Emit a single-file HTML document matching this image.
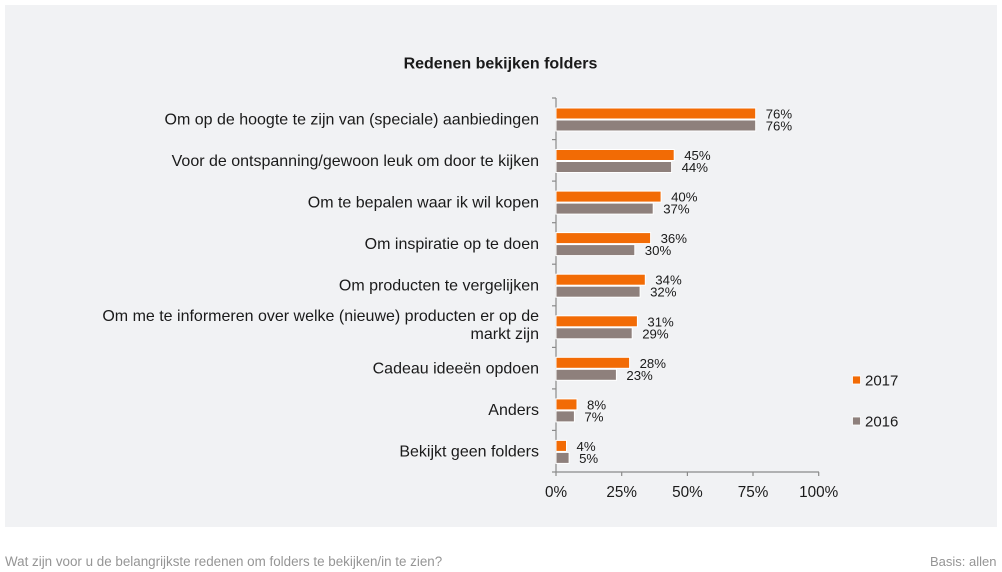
<!DOCTYPE html>
<html>
<head>
<meta charset="utf-8">
<style>
html,body{margin:0;padding:0;background:#ffffff;}
svg{display:block;}
text{font-family:"Liberation Sans",Arial,sans-serif;}
</style>
</head>
<body>
<svg width="1002" height="572" viewBox="0 0 1002 572" xmlns="http://www.w3.org/2000/svg">
  <rect x="0" y="0" width="1002" height="572" fill="#ffffff"/>
  <rect x="5" y="5" width="992" height="522" fill="#f1f2f4"/>

  <text x="500.5" y="68.5" font-size="16" font-weight="bold" fill="#1a1a1a" text-anchor="middle">Redenen bekijken folders</text>

  <!-- axes -->
  <g stroke="#8a8a8a" stroke-width="1.2" fill="none">
    <line x1="556" y1="98" x2="556" y2="472"/>
    <line x1="556" y1="472" x2="819" y2="472"/>
    <line x1="552" y1="98" x2="556" y2="98"/>
    <line x1="552" y1="139.6" x2="556" y2="139.6"/>
    <line x1="552" y1="181.1" x2="556" y2="181.1"/>
    <line x1="552" y1="222.7" x2="556" y2="222.7"/>
    <line x1="552" y1="264.2" x2="556" y2="264.2"/>
    <line x1="552" y1="305.8" x2="556" y2="305.8"/>
    <line x1="552" y1="347.4" x2="556" y2="347.4"/>
    <line x1="552" y1="388.9" x2="556" y2="388.9"/>
    <line x1="552" y1="430.4" x2="556" y2="430.4"/>
    <line x1="552" y1="472" x2="556" y2="472"/>
    <line x1="556" y1="472" x2="556" y2="476"/>
    <line x1="621.7" y1="472" x2="621.7" y2="476"/>
    <line x1="687.4" y1="472" x2="687.4" y2="476"/>
    <line x1="753" y1="472" x2="753" y2="476"/>
    <line x1="818.7" y1="472" x2="818.7" y2="476"/>
  </g>

  <!-- x tick labels -->
  <g font-size="15.3" fill="#1a1a1a" text-anchor="middle">
    <text x="556" y="497">0%</text>
    <text x="621.7" y="497">25%</text>
    <text x="687.4" y="497">50%</text>
    <text x="753" y="497">75%</text>
    <text x="818.7" y="497">100%</text>
  </g>

  <!-- category labels -->
  <g font-size="16" fill="#1a1a1a" text-anchor="end">
    <text x="539" y="124.3">Om op de hoogte te zijn van (speciale) aanbiedingen</text>
    <text x="539" y="165.8">Voor de ontspanning/gewoon leuk om door te kijken</text>
    <text x="539" y="207.4">Om te bepalen waar ik wil kopen</text>
    <text x="539" y="248.9">Om inspiratie op te doen</text>
    <text x="539" y="290.5">Om producten te vergelijken</text>
    <text x="539" y="320.8">Om me te informeren over welke (nieuwe) producten er op de</text>
    <text x="539" y="338.8">markt zijn</text>
    <text x="539" y="373.6">Cadeau ideeën opdoen</text>
    <text x="539" y="415.2">Anders</text>
    <text x="539" y="456.7">Bekijkt geen folders</text>
  </g>

  <!-- bars -->
  <g stroke="#ffffff" stroke-width="1">
    <!-- 2017 orange -->
    <rect x="556" y="108" width="199.7" height="11" fill="#f26b05"/>
    <rect x="556" y="149.5" width="118.2" height="11" fill="#f26b05"/>
    <rect x="556" y="191.1" width="105.1" height="11" fill="#f26b05"/>
    <rect x="556" y="232.6" width="94.6" height="11" fill="#f26b05"/>
    <rect x="556" y="274.2" width="89.3" height="11" fill="#f26b05"/>
    <rect x="556" y="315.8" width="81.4" height="11" fill="#f26b05"/>
    <rect x="556" y="357.3" width="73.6" height="11" fill="#f26b05"/>
    <rect x="556" y="398.9" width="21" height="11" fill="#f26b05"/>
    <rect x="556" y="440.4" width="10.5" height="11" fill="#f26b05"/>
    <!-- 2016 gray -->
    <rect x="556" y="120" width="199.7" height="11" fill="#8e807c"/>
    <rect x="556" y="161.5" width="115.6" height="11" fill="#8e807c"/>
    <rect x="556" y="203.1" width="97.2" height="11" fill="#8e807c"/>
    <rect x="556" y="244.6" width="78.8" height="11" fill="#8e807c"/>
    <rect x="556" y="286.2" width="84.1" height="11" fill="#8e807c"/>
    <rect x="556" y="327.8" width="76.2" height="11" fill="#8e807c"/>
    <rect x="556" y="369.3" width="60.4" height="11" fill="#8e807c"/>
    <rect x="556" y="410.9" width="18.4" height="11" fill="#8e807c"/>
    <rect x="556" y="452.4" width="13.1" height="11" fill="#8e807c"/>
  </g>

  <!-- value labels -->
  <g font-size="13.2" fill="#1a1a1a">
    <text x="765.7" y="118.5">76%</text>
    <text x="765.7" y="130.5">76%</text>
    <text x="684.2" y="160">45%</text>
    <text x="681.6" y="172">44%</text>
    <text x="671.1" y="201.6">40%</text>
    <text x="663.2" y="213.6">37%</text>
    <text x="660.6" y="243.1">36%</text>
    <text x="644.8" y="255.1">30%</text>
    <text x="655.3" y="284.7">34%</text>
    <text x="650.1" y="296.7">32%</text>
    <text x="647.4" y="326.3">31%</text>
    <text x="642.2" y="338.3">29%</text>
    <text x="639.6" y="367.8">28%</text>
    <text x="626.4" y="379.8">23%</text>
    <text x="587" y="409.4">8%</text>
    <text x="584.4" y="421.4">7%</text>
    <text x="576.5" y="450.9">4%</text>
    <text x="579.1" y="462.9">5%</text>
  </g>

  <!-- legend -->
  <rect x="852.5" y="376" width="8" height="8" fill="#f26b05" stroke="#ffffff" stroke-width="0.8"/>
  <text x="865" y="385.5" font-size="15" fill="#1a1a1a">2017</text>
  <rect x="852.5" y="417" width="8" height="8" fill="#8e807c" stroke="#ffffff" stroke-width="0.8"/>
  <text x="865" y="426.5" font-size="15" fill="#1a1a1a">2016</text>

  <!-- footer -->
  <text x="5" y="566" font-size="13.4" fill="#959595">Wat zijn voor u de belangrijkste redenen om folders te bekijken/in te zien?</text>
  <text x="996.5" y="566" font-size="13" fill="#959595" text-anchor="end">Basis: allen</text>
</svg>
</body>
</html>
